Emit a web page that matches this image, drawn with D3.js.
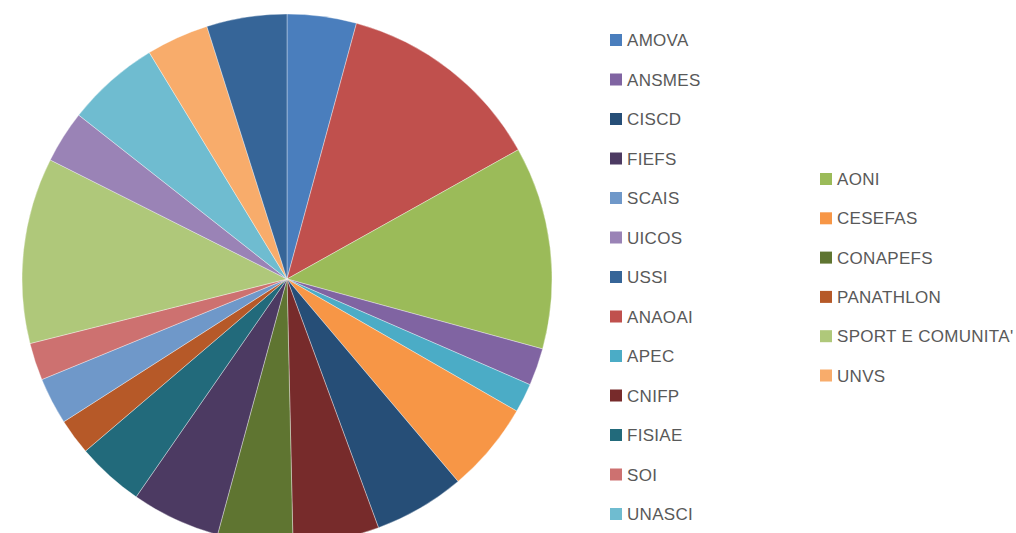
<!DOCTYPE html>
<html>
<head>
<meta charset="utf-8">
<script src="https://cdn.jsdelivr.net/npm/d3@7"></script>
<style>
    body { margin: 0; background: #fff; }
    svg { display: block; }
    .legend text { font-family: "Liberation Sans", Arial, sans-serif; font-size: 17px; letter-spacing: 0.3px; fill: #595959; }
</style>
</head>
<body>
<div id="chart"></div>
<script>
// slices in drawing order (clockwise from 12 o'clock)
const names = ["AMOVA", "ANAOAI", "AONI", "ANSMES", "APEC", "CESEFAS", "CISCD", "CNIFP", "CONAPEFS",
    "FIEFS", "FISIAE", "PANATHLON", "SCAIS", "SOI", "SPORT E COMUNITA'", "UICOS", "UNASCI", "UNVS", "USSI"];
const values = [15.2, 45.6, 44.5, 8.2, 6.4, 19.9, 20.0, 18.9, 16.5,
    19.5, 14.8, 7.9, 10.3, 8.2, 40.8, 11.5, 20.5, 13.7, 17.6];
const colors = ["#4a7ebd", "#c0504d", "#9bbb59", "#8064a2", "#4bacc6", "#f79646", "#264e77", "#772b2b", "#5f7531",
    "#4c3a62", "#226a7b", "#b65928", "#6f98c9", "#cd7170", "#afc87a", "#9a83b6", "#6fbcd0", "#f8ac6b", "#366598"];

// legend columns as they show up in the picture
const legendCol1 = ["AMOVA", "ANSMES", "CISCD", "FIEFS", "SCAIS", "UICOS", "USSI",
    "ANAOAI", "APEC", "CNIFP", "FISIAE", "SOI", "UNASCI"];
const legendCol2 = ["AONI", "CESEFAS", "CONAPEFS", "PANATHLON", "SPORT E COMUNITA'", "UNVS"];

const width = 1016, height = 533;
const cx = 287, cy = 279, radius = 265;

const svg = d3.select("#chart").append("svg")
    .attr("width", width)
    .attr("height", height);

const color = d3.scaleOrdinal().domain(names).range(colors);

const data = names.map((n, i) => ({name: n, value: values[i]}));
const pie = d3.pie().sort(null).value(d => d.value);
const arc = d3.arc().innerRadius(0).outerRadius(radius);

svg.append("g")
    .attr("transform", `translate(${cx},${cy})`)
    .selectAll("path")
    .data(pie(data))
    .enter().append("path")
    .attr("d", arc)
    .attr("fill", d => color(d.data.name))
    .attr("stroke", "#ffffff")
    .attr("stroke-opacity", 0.6)
    .attr("stroke-width", 0.6);

function drawLegend(items, x, y0, step) {
    const g = svg.append("g").attr("class", "legend");
    const row = g.selectAll("g")
        .data(items)
        .enter().append("g")
        .attr("transform", (d, i) => `translate(${x},${y0 + i * step})`);
    row.append("rect")
        .attr("x", 0)
        .attr("y", -6)
        .attr("width", 12)
        .attr("height", 12)
        .attr("fill", d => color(d));
    row.append("text")
        .attr("x", 17)
        .attr("y", 6)
        .text(d => d);
}

drawLegend(legendCol1, 610, 40, 39.5);
drawLegend(legendCol2, 820, 179, 39.3);
</script>
</body>
</html>
